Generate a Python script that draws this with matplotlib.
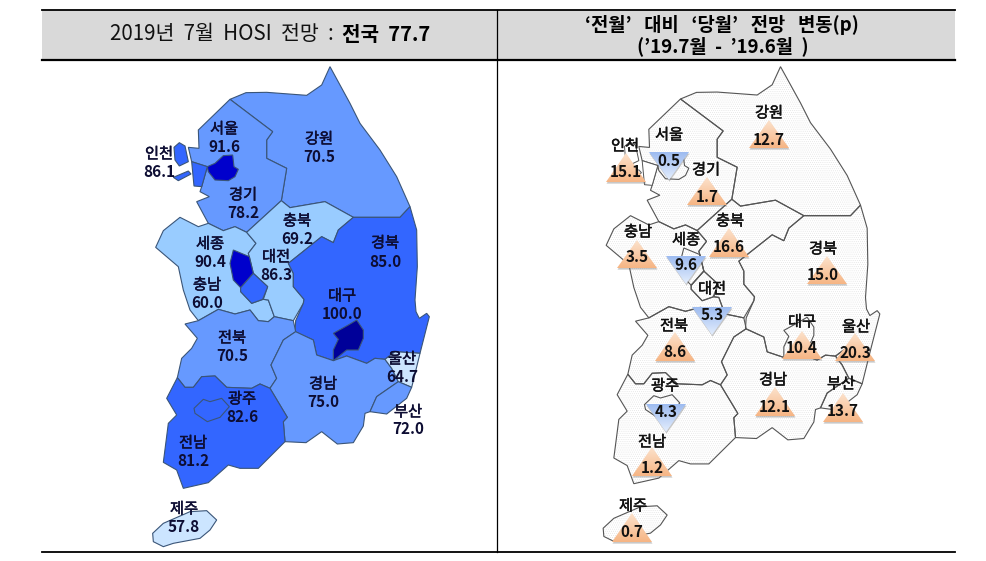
import numpy as np
import matplotlib
matplotlib.use("Agg")
import matplotlib.pyplot as plt
import matplotlib.patheffects as pe
from matplotlib.patches import Polygon, Rectangle

plt.rcParams['font.family'] = ['Noto Sans CJK KR', 'DejaVu Sans']
plt.rcParams['hatch.linewidth'] = 0.3

# ---------- data ----------
regions = ['서울','인천','경기','강원','충북','충남','세종','대전','경북','대구','전북','경남','울산','부산','광주','전남','제주']
hosi    = [91.6, 86.1, 78.2, 70.5, 69.2, 60.0, 90.4, 86.3, 85.0, 100.0, 70.5, 75.0, 64.7, 72.0, 82.6, 81.2, 57.8]
change  = [0.5, 15.1, 1.7, 12.7, 16.6, 3.5, 9.6, 5.3, 15.0, 10.4, 8.6, 12.1, 20.3, 13.7, 4.3, 1.2, 0.7]
falling = ['서울','세종','대전','광주']
title_left_a = '2019년  7월  HOSI  전망  :'
title_left_b = '전국  77.7'
title_right = ["‘전월’   대비   ‘당월’   전망   변동(p)", "(’19.7월  -  ’19.6월  )"]

# ---------- geometry (region outlines, pixels of the zoomed crops) ----------
def z1(p): return [(120 + x/3, 60 + y/3) for x, y in p]
def z2(p): return [(120 + x/3, 300 + y/3) for x, y in p]

outline = {
 '강원': z1([(330,118),(378,98),(440,97),(560,106),(605,75),(630,20),(690,130),(720,190),(780,270),(830,350),(870,440),(840,472),(700,472),(615,425),(510,443),(484,422),(500,325),(440,295),(440,240),(458,215)]),
 '경기': z1([(330,118),(458,215),(440,240),(440,295),(500,325),(484,422),(380,517),(345,500),(310,512),(265,490),(230,425),(268,410),(240,395),(245,380),(262,320),(215,305),(205,262),(237,265),(235,210)]),
 '충남': z1([(107,562),(130,512),(180,472),(235,500),(265,490),(310,512),(345,500),(380,517),(408,550),(385,580),(388,590),(400,640),(362,683),(362,695),(395,730),(430,718),(445,720)]) + z2([(463,50),(445,65),(415,62),(390,30),(345,42),(295,28),(235,62),(210,30),(200,0)]) + z1([(190,690),(175,620)]),
 '충북': z1([(380,517),(484,422),(510,443),(615,425),(700,472),(655,510),(640,548),(605,530),(505,610),(520,640),(520,680),(552,718)]) + z2([(550,10),(520,62),(463,50),(445,0)]) + z1([(430,718),(443,680),(400,640),(388,590),(385,580),(408,550)]),
 '경북': z1([(700,472),(840,472),(870,440),(890,510),(892,620),(885,720)]) + z2([(888,35),(898,55),(920,40),(928,50),(900,160),(825,155),(795,178),(765,175),(740,190),(680,168),(640,182),(590,165),(580,120),(525,95),(527,62),(550,10)]) + z1([(552,718),(520,680),(520,640),(505,610),(605,530),(640,548),(655,510)]),
 '전북': z2([(195,72),(235,62),(295,28),(345,42),(390,30),(415,62),(445,65),(463,50),(520,62),(527,95),(490,120),(453,195),(470,235),(450,265),(420,252),(395,265),(320,262),(285,228),(245,230),(220,262),(195,262),(172,233),(185,175),(215,145),(232,115)]),
 '경남': z2([(527,95),(580,120),(590,165),(640,182),(680,168),(740,190),(765,175),(795,178),(815,205),(835,245),(770,290),(750,335),(735,340),(730,378),(700,428),(652,432),(605,395),(558,428),(495,425),(490,365),(502,352),(450,265),(470,235),(453,195),(490,120)]),
 '울산': z2([(795,178),(825,155),(900,160),(875,262),(835,245),(815,205)]),
 '부산': z2([(835,245),(875,262),(860,295),(800,342),(750,335),(770,290)]),
 '전남': z2([(172,233),(195,262),(220,262),(245,230),(285,228),(320,262),(395,265),(420,252),(450,265),(502,352),(490,365),(495,425),(415,505),(360,505),(325,495),(265,548),(190,565),(170,510),(130,487),(145,370),(170,345),(140,295)]),
 '광주': z2([(222,325),(250,298),(270,305),(305,295),(328,320),(300,352),(262,365),(225,340)]),
 '제주': z2([(98,700),(130,670),(210,635),(260,632),(290,660),(270,690),(240,715),(160,730),(130,740),(100,725)]),
 '서울': z1([(262,320),(285,310),(310,287),(338,285),(342,320),(355,328),(345,350),(325,362),(285,360),(265,335)]),
 '세종': z1([(340,570),(388,590),(400,640),(362,683),(340,660),(330,610)]),
 '대전': z1([(400,640),(443,680),(428,718),(395,730),(362,695),(362,683)]),
 '대구': z2([(640,100),(685,75),(710,60),(730,90),(730,115),(715,150),(680,150),(640,182),(640,150),(655,118)]),
}
incheon_parts = [
 z1([(215,305),(262,320),(245,380),(222,378)]),
 z1([(162,262),(178,248),(195,258),(205,305),(178,318),(165,300)]),
 z1([(160,352),(205,333),(213,342),(175,362)]),
]
fill = {'서울':'#0000CC','인천':'#3366FF','경기':'#6699FF','강원':'#6699FF','충북':'#99CCFF','충남':'#99CCFF',
        '세종':'#0000CC','대전':'#3366FF','경북':'#3366FF','대구':'#000099','전북':'#6699FF','경남':'#6699FF',
        '울산':'#CCE5FF','부산':'#6699FF','광주':'#3366FF','전남':'#3366FF','제주':'#CCE5FF'}

# label anchors (name x, name y, value y) on the left map
left_pos = {'서울':(224,129,147),'인천':(159,154,172),'경기':(243,195,213),'강원':(319,139,157),'충북':(297,221,239),
            '충남':(207,285,303),'세종':(210,244,262),'대전':(276,257,275),'경북':(385,243,262),'대구':(342,296,314),
            '전북':(232,338,356),'경남':(323,384,402),'울산':(402,359,377),'부산':(408,412,429),'광주':(242,399,417),
            '전남':(193,443,461),'제주':(184,509,527)}
# right map: triangle centre x, flat-side y, tip y, name y, value y, name x
right_pos = {'강원':(769,148,120,113,140,769),'서울':(669,152,180,135,161,669),'인천':(626,182,153,146,172,625),
             '경기':(707,205,177,170,197,706),'충남':(637,268,240,232,257,638),'세종':(686,256,284,240,265,686),
             '충북':(729,257,228,221,247,730),'경북':(827,284,256,249,275,823),'대전':(712,307,335,289,315,712),
             '전북':(675,361,332,326,352,674),'대구':(802,359,331,322,348,802),'울산':(855,361,333,327,353,856),
             '경남':(775,416,387,380,407,773),'부산':(843,422,393,384,411,841),'광주':(666,404,432,386,412,665),
             '전남':(652,476,447,442,468,652),'제주':(632,542,513,506,532,633)}

# ---------- figure ----------
fig = plt.figure(figsize=(9.86, 5.61), dpi=100)
ax = fig.add_axes([0, 0, 1, 1])
ax.axis('off')

# table
ax.add_patch(Rectangle((42, 10), 913, 50, fc='#D9D9D9', ec='none', zorder=1))
ax.plot([42, 955], [10, 10], color='black', lw=1.3, zorder=2)
ax.plot([42, 955], [60, 60], color='black', lw=1.6, zorder=2)
ax.plot([42, 955], [552, 552], color='black', lw=1.3, zorder=2)
ax.plot([497, 497], [10, 552], color='black', lw=0.9, zorder=2)
ax.text(334, 34, title_left_a, ha='right', va='center', fontsize=14.8, color='#111111', zorder=5)
ax.text(342, 34, title_left_b, ha='left', va='center', fontsize=14.5, fontweight='bold', color='black', zorder=5)
ax.text(722, 25, title_right[0], ha='center', va='center', fontsize=13.5, fontweight='bold', color='black', zorder=5)
ax.text(723, 46, title_right[1], ha='center', va='center', fontsize=13.5, fontweight='bold', color='black', zorder=5)

EDGE_L = '#3A5578'
EDGE_R = '#555555'
def shift(p):
    return [(x + 450.5, y - 0.011 * (y - 67)) for x, y in p]

order = ['강원','경기','충남','충북','경북','전북','경남','울산','부산','전남','광주','제주','서울','세종','대전','대구']
for name in order:
    ax.add_patch(Polygon(outline[name], closed=True, fc=fill[name], ec=EDGE_L, lw=0.8, zorder=3))
for part in incheon_parts:
    ax.add_patch(Polygon(part, closed=True, fc=fill['인천'], ec=EDGE_L, lw=0.8, zorder=3))

for name in order:
    ax.add_patch(Polygon(shift(outline[name]), closed=True, fc='white', ec='#DEDEDE', lw=0, hatch='........', zorder=3))
    ax.add_patch(Polygon(shift(outline[name]), closed=True, fc='none', ec=EDGE_R, lw=0.8, zorder=3.2))
for part in incheon_parts:
    ax.add_patch(Polygon(shift(part), closed=True, fc='white', ec=EDGE_R, lw=0.7, zorder=3.2))

def label(x, y, s, col, bold=False):
    t = ax.text(x, y, s, ha='center', va='center', fontsize=11, fontweight='bold' if bold else 'normal', color=col, zorder=6)
    if not bold:
        t.set_path_effects([pe.withStroke(linewidth=0.35, foreground=col)])

# left labels
for name, val in zip(regions, hosi):
    x, ny, vy = left_pos[name]
    label(x, ny, name, '#0D0D33')
    label(x, vy, f'{val:.1f}', '#0D0D33', bold=True)

# right triangles
def grad(colors):
    c = np.array([matplotlib.colors.to_rgb(k) for k in colors])
    t = np.linspace(0, 1, 64)[:, None]
    return (c[0] * (1 - t) + c[1] * t)[:, None, :]

up_grad = grad(['#FCE2CC', '#F6B584'])
down_grad = grad(['#9DBBF0', '#E4EEFD'])
HALF = 20
for name, val in zip(regions, change):
    cx, fy, ty, ny, vy, nx = right_pos[name]
    tri = [(cx - HALF, fy), (cx + HALF, fy), (cx, ty)]
    ax.add_patch(Polygon([(a + 0.5, b + 1.6) for a, b in tri], closed=True, fc='#777777', alpha=0.4, ec='none', zorder=4))
    top, bot = min(fy, ty), max(fy, ty)
    clip = Polygon(tri, closed=True, fc='none', ec='none', zorder=4.1)
    ax.add_patch(clip)
    im = ax.imshow(up_grad if name not in falling else down_grad, extent=[cx - HALF, cx + HALF, bot, top],
                   aspect='auto', origin='upper', zorder=4.2, interpolation='bilinear')
    im.set_clip_path(clip)
    label(nx, ny, name, '#111111')
    label(cx if abs(cx - nx) < 3 else nx, vy, f'{val:.1f}', '#111111', bold=True)

ax.set_xlim(0, 986)
ax.set_ylim(561, 0)
fig.savefig('out.png', dpi=100, facecolor='white')
